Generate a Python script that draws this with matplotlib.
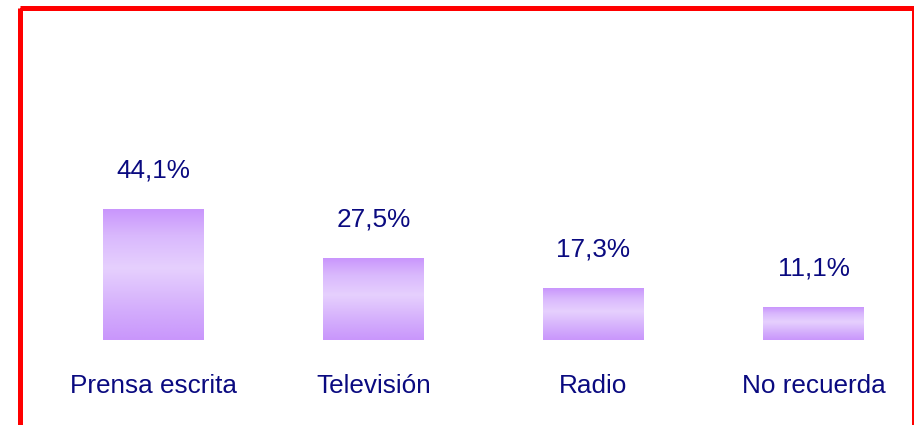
import matplotlib
matplotlib.use("Agg")
import matplotlib.pyplot as plt
import numpy as np
from matplotlib.patches import Rectangle
from matplotlib.colors import LinearSegmentedColormap

categories = ["Prensa escrita", "Televisión", "Radio", "No recuerda"]
values = [44.1, 27.5, 17.3, 11.1]
value_labels = ["44,1%", "27,5%", "17,3%", "11,1%"]

plt.rcParams['font.family'] = ['Liberation Sans', 'DejaVu Sans']
W, H = 914, 425
fig = plt.figure(figsize=(W / 100, H / 100), dpi=100)
ax = fig.add_axes([0, 0, 1, 1])
ax.set_axis_off()

px_per_unit_x = 220.0
px_per_unit_y = 2.97
x0_px = 153.5
base_px = 340.0

navy = "#0a0a80"
cmap = LinearSegmentedColormap.from_list(
    "g", [(0.0, "#c996fc"), (0.2, "#d2aafc"), (0.55, "#e6d0fe"), (0.8, "#d9b8fd"), (1.0, "#c996fc")])
grad = np.linspace(0, 1, 256).reshape(-1, 1)

xs = np.arange(len(categories))
width = 101 / px_per_unit_x
bars = ax.bar(xs, values, width=width, color="none", edgecolor="none")
for b, v, lab, cat in zip(bars, values, value_labels, categories):
    x, y = b.get_x(), b.get_y()
    w, h = b.get_width(), b.get_height()
    ax.imshow(grad, cmap=cmap, aspect="auto", extent=[x, x + w, y + h, y],
              interpolation="bicubic", zorder=2)
    cx = x + w / 2
    ax.text(cx, v + 32 / px_per_unit_y, lab, ha="center", va="baseline",
            fontsize=18.8, color=navy)
    ax.text(cx, -53 / px_per_unit_y, cat, ha="center", va="baseline",
            fontsize=18.8, color=navy)

ax.set_xlim(-x0_px / px_per_unit_x, (W - x0_px) / px_per_unit_x)
ax.set_ylim(-(H - base_px) / px_per_unit_y, base_px / px_per_unit_y)

# red frame
frame = Rectangle((19.5 / W, 1 - 7.5 / H), (913.8 - 19.5) / W, -(H + 20) / H,
                  transform=fig.transFigure, fill=False, edgecolor="#ff0000",
                  linewidth=5 * 0.72, clip_on=False, zorder=5)
fig.add_artist(frame)

fig.savefig("out.png", dpi=100)
